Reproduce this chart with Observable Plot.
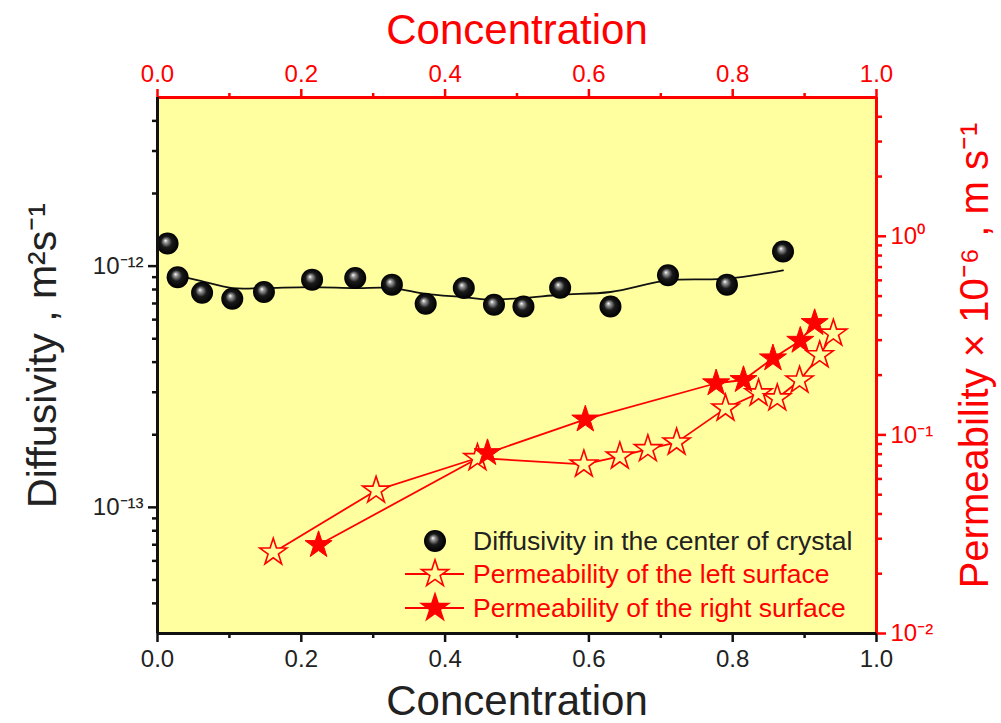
<!DOCTYPE html>
<html><head><meta charset="utf-8">
<script src="https://cdn.jsdelivr.net/npm/d3@7"></script>
<script src="https://cdn.jsdelivr.net/npm/@observablehq/plot@0.6"></script>
<style>
body{margin:0;background:#fff;font-family:"Liberation Sans",Arial,sans-serif;}
#wrap{position:relative;width:1001px;height:723px;overflow:hidden;}
#wrap > svg{position:absolute;left:0;top:0;}
</style></head><body><div id="wrap"></div>
<script>
// ---- data ----
const diffX = [0.014,0.028,0.062,0.104,0.148,0.215,0.275,0.326,0.373,0.426,0.468,0.509,0.560,0.630,0.710,0.792,0.870];
const diffY = [1.24e-12,9.0e-13,7.75e-13,7.32e-13,7.81e-13,8.79e-13,8.93e-13,8.38e-13,6.98e-13,8.11e-13,6.91e-13,6.80e-13,8.14e-13,6.80e-13,9.16e-13,8.38e-13,1.15e-12];
const fitX = [0.028,0.060,0.104,0.148,0.213,0.275,0.326,0.373,0.426,0.459,0.509,0.560,0.630,0.710,0.792,0.870];
const fitY = [9.16e-13,8.68e-13,8.11e-13,8.11e-13,8.19e-13,8.11e-13,8.11e-13,7.68e-13,7.44e-13,7.28e-13,7.37e-13,7.61e-13,7.81e-13,8.73e-13,8.87e-13,9.61e-13];
const leftX = [0.161,0.304,0.445,0.593,0.643,0.682,0.722,0.790,0.836,0.862,0.893,0.921,0.940];
const leftP = [0.0256,0.0525,0.0765,0.0711,0.078,0.0849,0.0917,0.136,0.162,0.153,0.188,0.252,0.324];
const rightX = [0.224,0.459,0.595,0.777,0.815,0.856,0.894,0.914];
const rightP = [0.0279,0.081,0.1196,0.182,0.189,0.243,0.298,0.366];

const xDomain = [0, 1];
const xTicks = [0, 0.2, 0.4, 0.6, 0.8, 1.0];
const xMinor = [0.1, 0.3, 0.5, 0.7, 0.9];
const dDomain = [3e-14, 5e-12];
const dTicks = [1e-13, 1e-12];
const dTickLabels = ["10\u207B\u00B9\u00B3", "10\u207B\u00B9\u00B2"];
const pDomain = [0.01, 5];
const pTicks = [0.01, 0.1, 1];
const pTickLabels = ["10\u207B\u00B2", "10\u207B\u00B9", "10\u2070"];

const xLabel = "Concentration";
const dLabel = "Diffusivity , m\u00B2s\u207B\u00B9";
const pLabel = "Permeability \u00D7 10\u207B\u2076 , m s\u207B\u00B9";
const legendLabels = ["Diffusivity in the center of crystal", "Permeability of the left surface", "Permeability of the right surface"];

// ---- helpers ----
function logMinor(domain) {
  const out = [];
  for (let e = Math.floor(Math.log10(domain[0])); e <= Math.ceil(Math.log10(domain[1])); e++) {
    for (let m = 2; m <= 9; m++) {
      const v = m * Math.pow(10, e);
      if (v > domain[0] * 1.0001 && v < domain[1] * 0.9999) out.push(v);
    }
  }
  return out;
}
const dMinor = logMinor(dDomain);
const pMinor = logMinor(pDomain);

const BG = "#ffffa0";
const RED = "#ff0000";
const FONT = "Liberation Sans, Arial, sans-serif";
const W = 1001, H = 723;
const M = {marginTop: 97, marginBottom: 90, marginLeft: 157, marginRight: 125};
const STAR_R = 8.5;

const diffData = diffX.map((x, i) => ({x, y: diffY[i]}));
const fitData = fitX.map((x, i) => ({x, y: fitY[i]}));
const leftData = leftX.map((x, i) => ({x, y: leftP[i]}));
const rightData = rightX.map((x, i) => ({x, y: rightP[i]}));

const common = {width: W, height: H, ...M, style: {fontFamily: FONT, background: "transparent", overflow: "visible"}};

const p1 = Plot.plot({
  ...common,
  x: {domain: xDomain, axis: null},
  y: {type: "log", domain: dDomain, axis: null},
  marks: [
    Plot.frame({fill: BG, stroke: null}),
    Plot.line(fitData, {x: "x", y: "y", stroke: "#111", strokeWidth: 1.8, curve: "catmull-rom"}),
    Plot.dot(diffData, {x: "x", y: "y", r: 11, fill: "url(#sphere)", stroke: null}),
    // bottom axis
    Plot.axisX({anchor: "bottom", ticks: xTicks, tickFormat: d3.format(".1f"), tickSize: 9, tickPadding: 7, fontSize: 24, strokeWidth: 2.5, stroke: "#111", fill: "#222", label: null}),
    Plot.axisX({anchor: "bottom", ticks: xMinor, tickSize: 5, strokeWidth: 2.5, stroke: "#111", fill: "none", label: null}),
    // top axis
    Plot.axisX({anchor: "top", ticks: xTicks, tickFormat: d3.format(".1f"), tickSize: 9, tickPadding: 7, fontSize: 24, strokeWidth: 2.5, stroke: RED, fill: RED, label: null}),
    Plot.axisX({anchor: "top", ticks: xMinor, tickSize: 5, strokeWidth: 2.5, stroke: RED, fill: "none", label: null}),
    // left axis
    Plot.axisY({anchor: "left", ticks: dTicks, tickFormat: d => dTickLabels[dTicks.indexOf(d)], tickSize: 9, tickPadding: 5, fontSize: 24, strokeWidth: 2.5, stroke: "#111", fill: "#222", label: null}),
    Plot.axisY({anchor: "left", ticks: dMinor, tickSize: 5, strokeWidth: 2.5, stroke: "#111", fill: "none", label: null}),
    // spines
    Plot.ruleY([dDomain[1]], {stroke: RED, strokeWidth: 3}),
    Plot.ruleX([xDomain[1]], {stroke: RED, strokeWidth: 3}),
    Plot.ruleY([dDomain[0]], {stroke: "#111", strokeWidth: 3}),
    Plot.ruleX([xDomain[0]], {stroke: "#111", strokeWidth: 3}),
    // titles
    Plot.text([xLabel], {text: d => d, frameAnchor: "bottom", textAnchor: "middle", dy: 68, fontSize: 42, fill: "#222", lineAnchor: "middle"}),
    Plot.text([xLabel], {text: d => d, frameAnchor: "top", textAnchor: "middle", dy: -67, fontSize: 42, fill: RED, lineAnchor: "middle"}),
    Plot.text([dLabel], {text: d => d, frameAnchor: "left", textAnchor: "middle", rotate: -90, dx: -115, dy: -10, fontSize: 41, fill: "#222", lineAnchor: "middle"})
  ]
});

d3.select(p1).append("defs").html(`
  <radialGradient id="sphere" cx="0.5" cy="0.5" r="0.5" fx="0.4" fy="0.36">
    <stop offset="0" stop-color="#ffffff"/>
    <stop offset="0.16" stop-color="#a0a0a0"/>
    <stop offset="0.5" stop-color="#1a1a1a"/>
    <stop offset="1" stop-color="#000000"/>
  </radialGradient>`);

const p2 = Plot.plot({
  ...common,
  x: {domain: xDomain, axis: null},
  y: {type: "log", domain: pDomain, axis: null},
  marks: [
    Plot.line(leftData, {x: "x", y: "y", stroke: RED, strokeWidth: 1.8}),
    Plot.line(rightData, {x: "x", y: "y", stroke: RED, strokeWidth: 1.8}),
    Plot.dot(leftData, {x: "x", y: "y", symbol: "star", r: STAR_R, fill: BG, stroke: RED, strokeWidth: 1.6}),
    Plot.dot(rightData, {x: "x", y: "y", symbol: "star", r: STAR_R, fill: RED, stroke: RED, strokeWidth: 1}),
    Plot.axisY({anchor: "right", ticks: pTicks, tickFormat: d => pTickLabels[pTicks.indexOf(d)], tickSize: 9, tickPadding: 5, fontSize: 24, strokeWidth: 2.5, stroke: RED, fill: RED, label: null}),
    Plot.axisY({anchor: "right", ticks: pMinor, tickSize: 5, strokeWidth: 2.5, stroke: RED, fill: "none", label: null}),
    Plot.text([pLabel], {text: d => d, frameAnchor: "right", textAnchor: "middle", rotate: -90, dx: 99, dy: -10, fontSize: 40, fill: RED, lineAnchor: "middle"})
  ]
});

const wrap = document.getElementById("wrap");
wrap.appendChild(p1);
wrap.appendChild(p2);

// ---- legend ----
const lg = d3.select(wrap).append("svg").attr("width", W).attr("height", H)
  .style("font-family", FONT).style("pointer-events", "none");
const rows = [541, 574, 608];
const star = d3.symbol(d3.symbolStar, Math.PI * STAR_R * STAR_R)();
lg.append("circle").attr("cx", 435).attr("cy", rows[0]).attr("r", 11).attr("fill", "url(#sphere)");
[1, 2].forEach(i => {
  lg.append("line").attr("x1", 405).attr("x2", 464).attr("y1", rows[i]).attr("y2", rows[i]).attr("stroke", RED).attr("stroke-width", 1.8);
  lg.append("path").attr("d", star).attr("transform", `translate(435,${rows[i]})`)
    .attr("fill", i === 1 ? BG : RED).attr("stroke", RED).attr("stroke-width", 1.6);
});
legendLabels.forEach((t, i) => {
  lg.append("text").attr("x", 473).attr("y", rows[i]).attr("dy", "0.35em")
    .attr("font-size", 26.5).attr("fill", i === 0 ? "#222" : RED).text(t);
});
</script>
</body></html>
